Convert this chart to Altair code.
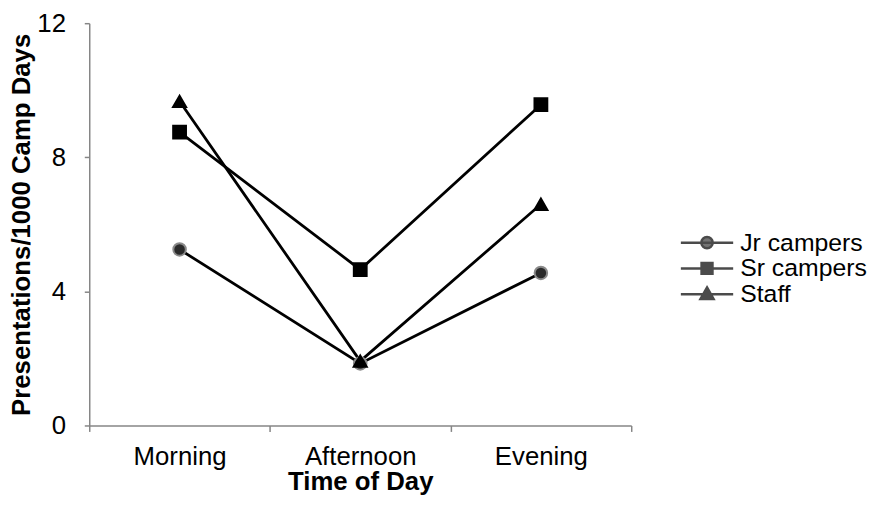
import altair as alt
import pandas as pd

times = ["Morning", "Afternoon", "Evening"]
series = ["Jr campers", "Sr campers", "Staff"]
jr_values = [5.25, 1.85, 4.55]
sr_values = [8.75, 4.65, 9.57]
staff_values = [9.67, 1.92, 6.6]
y_ticks = [0, 4, 8, 12]

rows = []
for name, vals in zip(series, [jr_values, sr_values, staff_values]):
    for t, v in zip(times, vals):
        rows.append({"time": t, "series": name, "value": v})
df = pd.DataFrame(rows)

FONT = "Liberation Sans"
AXIS_GREY = "#868686"

x_enc = alt.X("time:N", sort=times,
              scale=alt.Scale(paddingInner=0, paddingOuter=0),
              axis=alt.Axis(title="Time of Day", labelAngle=0, tickBand="extent",
                            tickSize=6, labelPadding=12, titlePadding=0))
y_enc = alt.Y("value:Q", scale=alt.Scale(domain=[0, 12], nice=False, zero=True),
              axis=alt.Axis(title="Presentations/1000 Camp Days", values=y_ticks,
                            tickSize=5, labelPadding=19, titlePadding=2))

base = alt.Chart(df)

lines = base.mark_line(color="black", strokeWidth=2.8).encode(
    x=x_enc, y=y_enc, detail="series:N")

points = base.mark_point(filled=True, opacity=1).encode(
    x=x_enc, y=y_enc,
    shape=alt.Shape("series:N", sort=series,
                    scale=alt.Scale(domain=series, range=["circle", "square", "triangle-up"]),
                    legend=None),
    fill=alt.Fill("series:N", scale=alt.Scale(domain=series, range=["#2b2b2b", "black", "black"]),
                  legend=None),
    stroke=alt.Stroke("series:N", scale=alt.Scale(domain=series, range=["#8a8a8a", "black", "black"]),
                      legend=None),
    size=alt.Size("series:N", scale=alt.Scale(domain=series, range=[160, 175, 210]), legend=None),
)

legend_paths = [
    "M-2.4,0H2.4M0.52,0A0.52,0.52 0 1,1 -0.52,0A0.52,0.52 0 1,1 0.52,0Z",
    "M-2.4,0H2.4M-0.5,-0.5H0.5V0.5H-0.5Z",
    "M-2.4,0H2.4M0,-0.62L0.6,0.44H-0.6Z",
]

legend_props = dict(title=None, orient="none", legendX=611, legendY=209,
                    symbolSize=484, symbolStrokeColor="black",
                    symbolStrokeWidth=2.5, labelOffset=21,
                    labelFontSize=25, labelFont=FONT, labelColor="black",
                    rowPadding=0, labelLimit=400)

legend_layer = base.transform_filter("false").mark_point(filled=True).encode(
    x=x_enc, y=y_enc,
    shape=alt.Shape("series:N",
                    scale=alt.Scale(domain=series, range=legend_paths),
                    legend=alt.Legend(**legend_props)),
    color=alt.Color("series:N",
                    scale=alt.Scale(domain=series, range=["#3a3a3a", "black", "black"]),
                    legend=alt.Legend(**legend_props)),
)

chart = alt.layer(lines, points, legend_layer).resolve_scale(
    shape="independent", color="independent", fill="independent"
).properties(
    width=547, height=406,
    padding={"left": 82, "top": 13, "right": 242, "bottom": 86},
    autosize=alt.AutoSizeParams(type="none"),
).configure_view(stroke=None).configure_axis(
    grid=False, domainColor=AXIS_GREY, tickColor=AXIS_GREY, domainWidth=1.5, tickWidth=1.5,
    labelFont=FONT, labelFontSize=26, labelColor="black",
    titleFont=FONT, titleFontSize=26, titleFontWeight="bold", titleColor="black",
).configure_legend(labelFont=FONT)

chart.save("out.html", embed_options={"renderer": "svg", "actions": False})
